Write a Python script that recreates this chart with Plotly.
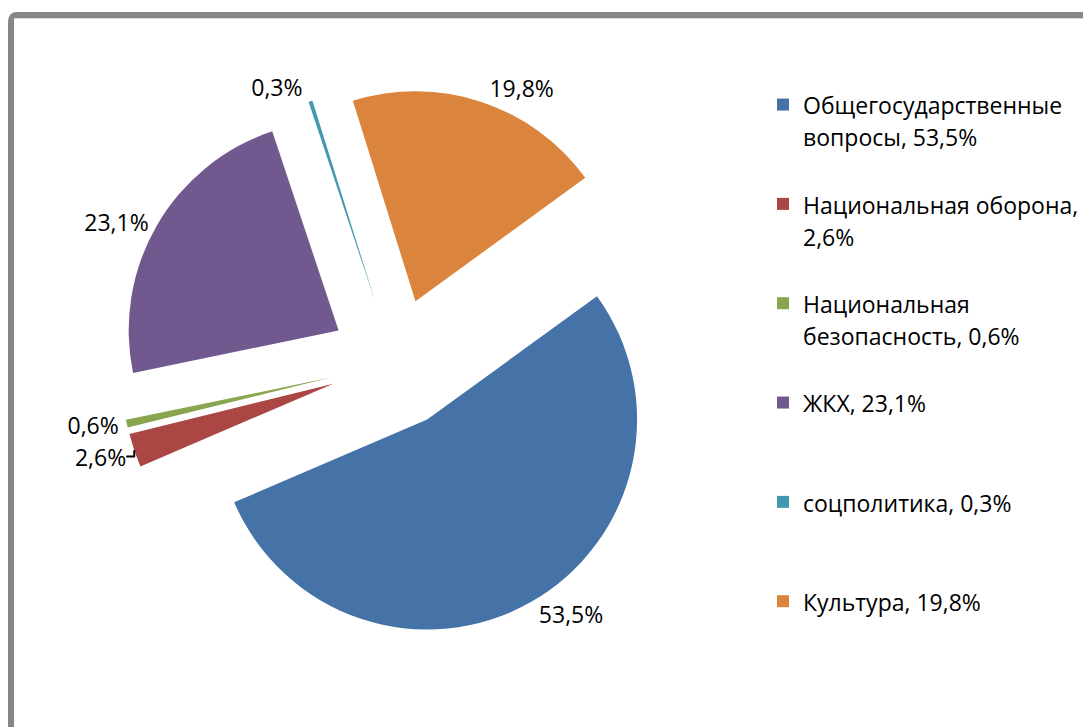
import plotly.graph_objects as go

categories = ["Общегосударственные вопросы", "Национальная оборона", "Национальная безопасность",
              "ЖКХ", "соцполитика", "Культура"]
values = [53.5, 2.6, 0.6, 23.1, 0.3, 19.8]
legend_lines = [["Общегосударственные", "вопросы, {v}%"],
                ["Национальная оборона,", "{v}%"],
                ["Национальная", "безопасность, {v}%"],
                ["ЖКХ, {v}%"],
                ["соцполитика, {v}%"],
                ["Культура, {v}%"]]
colors = ["#4572A7", "#AA4643", "#89A54E", "#71588F", "#4198AF", "#DB843D"]

def fmt(v):
    return ("%.1f" % v).replace(".", ",")

labels = []
for lines, v in zip(legend_lines, values):
    ls = [l.format(v=fmt(v)) for l in lines]
    while len(ls) < 3:
        ls.append("\u00a0")
    labels.append("<br>".join('<span style="font-size:23px">%s</span>' % l for l in ls))

W, H = 1091, 727
cx, cy, half = 387, 355, 275

fig = go.Figure()
fig.add_trace(go.Pie(
    labels=labels,
    values=values,
    text=[fmt(v) + "%" for v in values],
    textinfo="text",
    textposition="outside",
    outsidetextfont=dict(family="Open Sans", size=23, color="#000000"),
    sort=False,
    direction="clockwise",
    rotation=54,
    pull=[0.31] * len(values),
    marker=dict(colors=colors, line=dict(width=0)),
    domain=dict(x=[(cx - half) / W, (cx + half) / W],
                y=[1 - (cy + half) / H, 1 - (cy - half) / H]),
    hoverinfo="skip",
))

# frame
fx, fy = 3, 7
fig.add_shape(type="path", xref="paper", yref="paper",
              path="M %f %f L %f %f Q %f %f %f %f L %f %f" % (
                  fx / W, -0.05, fx / W, 1 - (fy + 6) / H,
                  fx / W, 1 - fy / H, (fx + 6) / W, 1 - fy / H,
                  1.05, 1 - fy / H),
              line=dict(color="#878787", width=6))
fig.add_shape(type="line", xref="paper", yref="paper",
              x0=(fx + 3) / W, x1=1.05, y0=1 - (fy + 3.5) / H, y1=1 - (fy + 3.5) / H,
              line=dict(color="#dcdcdc", width=1))

fig.update_layout(
    width=W, height=H,
    margin=dict(l=0, r=0, t=0, b=0, autoexpand=False),
    paper_bgcolor="white",
    plot_bgcolor="white",
    separators=", ",
    font=dict(family="Open Sans", color="#000000"),
    showlegend=True,
    legend=dict(x=755 / W, xanchor="left", y=1 - 74 / H, yanchor="top",
                font=dict(family="Open Sans", size=24.7, color="#000000"),
                valign="top", bgcolor="rgba(0,0,0,0)", borderwidth=0),
)

fig.write_html("out.html")
